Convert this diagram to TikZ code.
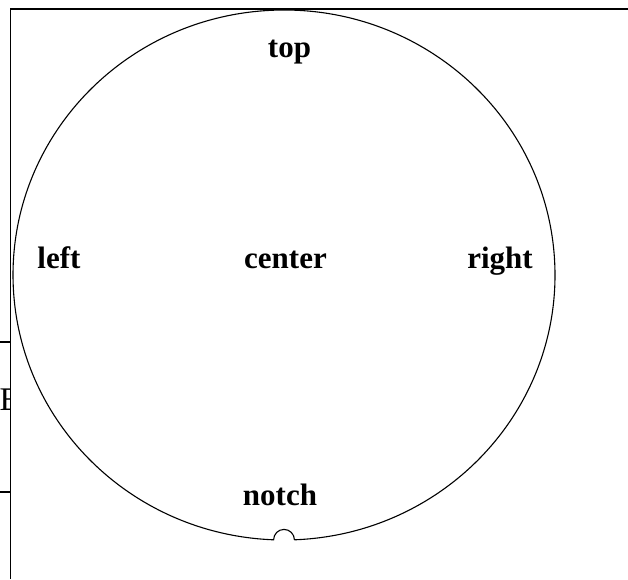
\documentclass[tikz,border=0pt]{standalone}
\usepackage{fontspec}
\setmainfont{Liberation Serif}
\usepackage{tikz}
\usetikzlibrary{positioning}
\tikzset{
	frameline/.style={line width=1.6pt, draw=black},
	wafer/.style    ={line width=1.1pt, draw=black},
	lbl/.style      ={font=\bfseries\fontsize{31}{36}\selectfont, inner sep=0pt, anchor=base},
	cut/.style      ={font=\fontsize{33}{38}\selectfont, inner sep=0pt, anchor=base west},
}
\begin{document}
\begin{tikzpicture}[x=1pt, y=1pt]
	\useasboundingbox (0,0) rectangle (628,579);
	% frame behind the wafer
	\draw[frameline] (628,570) -- (10.5,570) -- (10.5,0);
	\draw[frameline] (0,237) -- (10.5,237);
	\draw[frameline] (0,87) -- (10.5,87);
	\begin{scope}
		\clip (0,0) rectangle (9.7,579);
		\node[cut] (hidden) at (-0.5,169) {E};
	\end{scope}
	% wafer outline with notch
	\draw[wafer] (294.4,39.2) arc[start angle=-87.8, end angle=267.8, x radius=271, y radius=265]
		arc[start angle=180, end angle=0, radius=10.4];
	% labels
	\node[lbl] (center) at (285.5,311) {center};
	\node[lbl] (top)    at (289.5,521) {top};
	\node[lbl] (left)   at (59,311)    {left};
	\node[lbl] (right)  at (500,311)   {right};
	\node[lbl] (notch)  at (280,74)    {notch};
\end{tikzpicture}
\end{document}
